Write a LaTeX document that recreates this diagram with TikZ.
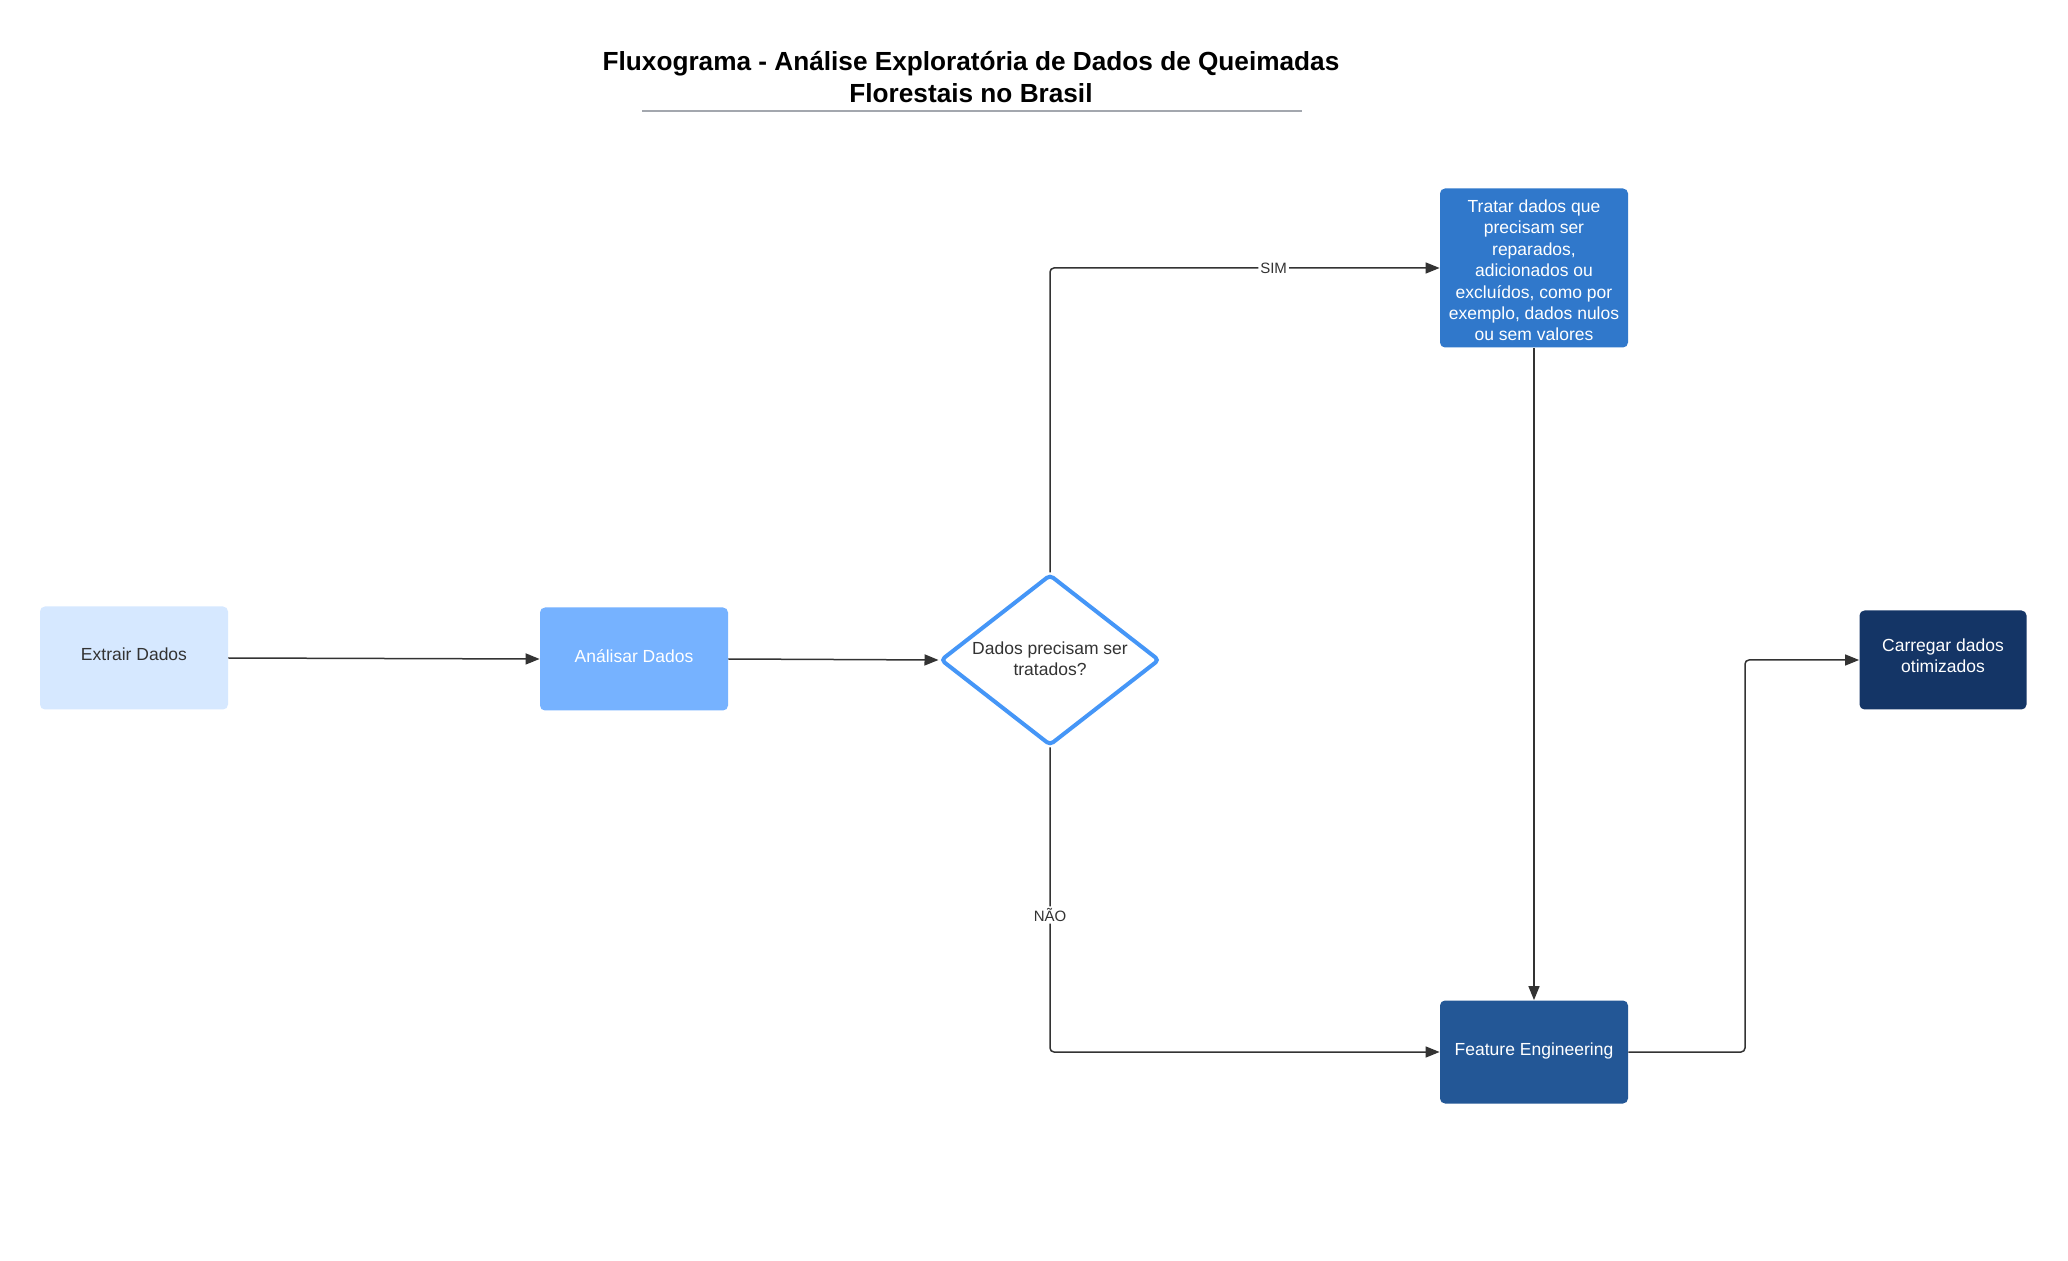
\documentclass[tikz,border=0pt]{standalone}
\usepackage{fontspec}
\setmainfont{Liberation Sans}
\usetikzlibrary{arrows.meta,shapes.geometric}
\definecolor{cExt}{HTML}{D6E8FF}
\definecolor{cAna}{HTML}{76B2FF}
\definecolor{cDia}{HTML}{4596F7}
\definecolor{cTra}{HTML}{3078CB}
\definecolor{cFea}{HTML}{235796}
\definecolor{cCar}{HTML}{143566}
\definecolor{cLine}{HTML}{333333}
\definecolor{cRule}{HTML}{A3A7AE}
\begin{document}
\begin{tikzpicture}[x=0.5pt,y=-0.5pt,
  box/.style={rectangle, rounded corners=2.5pt, minimum width=94pt, minimum height=51.5pt,
    inner sep=2pt, align=center, font=\fontsize{8.75pt}{10.7pt}\selectfont},
  lightbox/.style={box, fill=cExt, text=cLine},
  darkbox/.style={box, text=white},
  dec/.style={diamond, draw=cDia, line width=2pt, fill=white, rounded corners=2pt,
    minimum width=109.5pt, minimum height=85.5pt, inner sep=0pt},
  txt/.style={align=center, text=cLine, font=\fontsize{8.75pt}{10.7pt}\selectfont},
  wtxt/.style={align=center, text=white, font=\fontsize{8.75pt}{10.7pt}\selectfont},
  conn/.style={draw=cLine, line width=0.75pt, rounded corners=2pt,
    -{Triangle[length=7pt,width=5.5pt]}},
  lbl/.style={fill=white, inner sep=1pt, text=cLine, font=\fontsize{7.5pt}{9pt}\selectfont}]
\useasboundingbox (0,0) rectangle (2068,1261);
\fill[white] (0,0) rectangle (2068,1261);

\node[align=center, font=\fontsize{13.1pt}{15.8pt}\selectfont\bfseries] (title) at (971,77)
  {Fluxograma - Análise Exploratória de Dados de Queimadas\\Florestais no Brasil};
\coordinate (rl) at (642,111);
\coordinate (rr) at (1302,111);
\draw[cRule, line width=1pt] (rl) -- (rr);

\node[lightbox] (e) at (134,658) {};
\node[txt] (et) at ([yshift=2pt]e.center) {Extrair Dados};
\node[box, fill=cAna] (a) at (634,659) {};
\node[wtxt] (at) at ([yshift=1.5pt]a.center) {Análisar Dados};
\node[dec] (d) at (1050,660) {};
\node[txt] (dt) at ([yshift=0.5pt]d.center) {Dados precisam ser\\tratados?};
\node[box, fill=cTra, minimum height=79.5pt] (t) at (1534,268) {};
\node[wtxt] (tt) at ([yshift=-1.2pt]t.center)
  {Tratar dados que\\precisam ser\\reparados,\\adicionados ou\\excluídos, como por\\exemplo, dados nulos\\ou sem valores};
\node[box, fill=cFea] (f) at (1534,1052) {};
\node[wtxt] (ft) at ([yshift=0.7pt]f.center) {Feature Engineering};
\node[box, fill=cCar, minimum width=83.5pt, minimum height=49.5pt] (c) at (1943,660) {};
\node[wtxt] (ct) at ([yshift=2pt]c.center) {Carregar dados\\otimizados};
\coordinate (m) at (1745,0);

\draw[conn] (e.east) -- (a.west);
\draw[conn] (a.east) -- (d.west);
\draw[conn] (d.north) |- node[lbl, pos=0.787] {SIM} (t.west);
\draw[conn] (d.south) |- node[lbl, pos=0.275] {NÃO} (f.west);
\draw[conn] (t.south) -- (f.north);
\draw[conn] (f.east) -- (f.east -| m) |- (c.west);
\end{tikzpicture}
\end{document}
